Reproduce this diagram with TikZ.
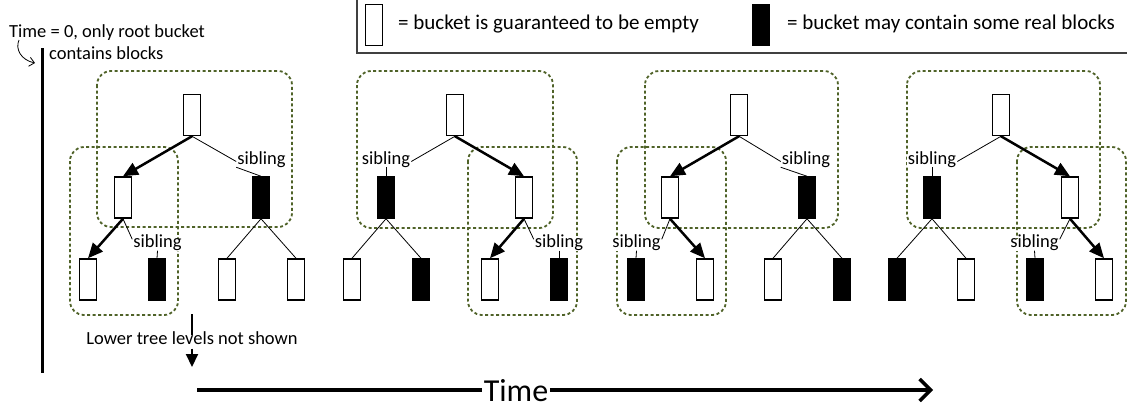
\documentclass[tikz,border=0pt]{standalone}
\usepackage{fontspec}
\setmainfont{Carlito}
\usetikzlibrary{arrows.meta}
\definecolor{groupgreen}{RGB}{79,98,40}
\definecolor{legendgray}{RGB}{64,64,64}

\begin{document}
\begin{tikzpicture}
[ x=1pt, y=-1pt, text height=1.5ex, text depth=0.4ex
, font=\fontsize{18.5}{22}\selectfont
, emptybucket/.style={rectangle, draw, line width=1.5pt, minimum width=17pt, minimum height=41pt, inner sep=0pt, fill=white}
, fullbucket/.style={emptybucket, fill=black}
, siblingtag/.style={rectangle, fill=white, inner sep=1pt}
, plaintext/.style={anchor=west, inner sep=0pt}
, keytext/.style={plaintext, font=\fontsize{21}{25}\selectfont}
, link/.style={line width=0.8pt}
, walk/.style={line width=2.5pt, -{Triangle[length=15pt, width=13pt]}}
, groupbox/.style={draw=groupgreen, line width=1.8pt, dash pattern=on 3pt off 2.5pt, rounded corners=14pt}
]
\useasboundingbox (0,0) rectangle (1127,408);
% Legend:
\draw [legendgray, line width=1.5pt] (357,-3) rectangle (1140,53);
\node (keyempty) [emptybucket] at (374,25) {};
\node (keyemptytext) [keytext] at (398,27) {= bucket is guaranteed to be empty};
\node (keyfull) [fullbucket] at (761,25) {};
\node (keyfulltext) [keytext] at (787,27) {= bucket may contain some real blocks};
% Start of time:
\node (start) [plaintext] at (9,34.5) {Time = 0, only root bucket};
\node (startb) [plaintext] at (49,56.5) {contains blocks};
\coordinate (hookstart) at (19,40);
\coordinate (hookend) at (35,63);
\draw [line width=0.8pt, -{Straight Barb[length=5pt, width=9pt]}] (hookstart) .. controls (15,49) and (21,60) .. (hookend);
\coordinate (axtop) at (42,48);
\coordinate (axbot) at (42,373);
\draw [line width=3pt] (axtop) -- (axbot);
% Groups:
\draw [groupbox] (97,71) rectangle (292,227);
\draw [groupbox] (70,147) rectangle (178,315);
\draw [groupbox] (357,71) rectangle (553,228);
\draw [groupbox] (468,147) rectangle (577,315);
\draw [groupbox] (645,71) rectangle (838,228);
\draw [groupbox] (617,147) rectangle (726,315);
\draw [groupbox] (907,71) rectangle (1100,228);
\draw [groupbox] (1017,147) rectangle (1126,315);
% First tree:
\node (t1r) [emptybucket] at (192,115) {};
\node (t1a) [emptybucket] at (123,197.5) {};
\node (t1b) [fullbucket] at (261,197.5) {};
\node (t1aa) [emptybucket] at (88,279.5) {};
\node (t1ab) [fullbucket] at (157,279.5) {};
\node (t1ba) [emptybucket] at (227,279.5) {};
\node (t1bb) [emptybucket] at (296,279.5) {};
\node (t1s1) [siblingtag] at (261.5,161.5) {sibling};
\node (t1s2) [siblingtag] at (157.5,245) {sibling};
% Second tree:
\node (t2r) [emptybucket] at (455,115) {};
\node (t2a) [fullbucket] at (386,197.5) {};
\node (t2b) [emptybucket] at (524,197.5) {};
\node (t2aa) [emptybucket] at (352,279.5) {};
\node (t2ab) [fullbucket] at (421,279.5) {};
\node (t2ba) [emptybucket] at (490,279.5) {};
\node (t2bb) [fullbucket] at (559,279.5) {};
\node (t2s1) [siblingtag] at (386,161.5) {sibling};
\node (t2s2) [siblingtag] at (559,245) {sibling};
% Third tree:
\node (t3r) [emptybucket] at (739,115) {};
\node (t3a) [emptybucket] at (670,197.5) {};
\node (t3b) [fullbucket] at (807,197.5) {};
\node (t3aa) [fullbucket] at (636,279.5) {};
\node (t3ab) [emptybucket] at (705,279.5) {};
\node (t3ba) [emptybucket] at (773,279.5) {};
\node (t3bb) [fullbucket] at (842,279.5) {};
\node (t3s1) [siblingtag] at (806,161.5) {sibling};
\node (t3s2) [siblingtag] at (636.5,245) {sibling};
% Fourth tree:
\node (t4r) [emptybucket] at (1001,115) {};
\node (t4a) [fullbucket] at (932,197.5) {};
\node (t4b) [emptybucket] at (1070,197.5) {};
\node (t4aa) [fullbucket] at (897,279.5) {};
\node (t4ab) [emptybucket] at (966,279.5) {};
\node (t4ba) [fullbucket] at (1035,279.5) {};
\node (t4bb) [emptybucket] at (1104,279.5) {};
\node (t4s1) [siblingtag] at (932,161.5) {sibling};
\node (t4s2) [siblingtag] at (1034.5,245) {sibling};
% Edges:
\draw [walk] (t1r.south) -- (t1a.north);
\draw [walk] (t1a.south) -- (t1aa.north);
\draw [link] (t1b.south) -- (t1ba.north);
\draw [link] (t1b.south) -- (t1bb.north);
\draw [link] (t1r.south) -- (t1s1.west);
\draw [link] (t1s1.south west) -- (t1b.north);
\draw [link] (t1a.south) -- (t1s2.north west);
\draw [link] (t1s2.south) -- (t1ab.north);
\draw [walk] (t2r.south) -- (t2b.north);
\draw [walk] (t2b.south) -- (t2ba.north);
\draw [link] (t2a.south) -- (t2aa.north);
\draw [link] (t2a.south) -- (t2ab.north);
\draw [link] (t2r.south) -- (t2s1.east);
\draw [link] (t2s1.south) -- (t2a.north);
\draw [link] (t2b.south) -- (t2s2.north west);
\draw [link] (t2s2.south) -- (t2bb.north);
\draw [walk] (t3r.south) -- (t3a.north);
\draw [walk] (t3a.south) -- (t3ab.north);
\draw [link] (t3b.south) -- (t3ba.north);
\draw [link] (t3b.south) -- (t3bb.north);
\draw [link] (t3r.south) -- (t3s1.west);
\draw [link] (t3s1.south west) -- (t3b.north);
\draw [link] (t3a.south) -- (t3s2.north east);
\draw [link] (t3s2.south) -- (t3aa.north);
\draw [walk] (t4r.south) -- (t4b.north);
\draw [walk] (t4b.south) -- (t4bb.north);
\draw [link] (t4a.south) -- (t4aa.north);
\draw [link] (t4a.south) -- (t4ab.north);
\draw [link] (t4r.south) -- (t4s1.east);
\draw [link] (t4s1.south) -- (t4a.north);
\draw [link] (t4b.south) -- (t4s2.north east);
\draw [link] (t4s2.south) -- (t4ba.north);
% Lower levels and time axis:
\node (lower) [inner sep=2pt] at (192,342) {Lower tree levels not shown};
\coordinate (lowertop) at (192,314);
\coordinate (lowerend) at (192,367);
\draw [line width=2pt] (lowertop) -- (lower);
\draw [line width=2pt, -{Triangle[length=13pt, width=12pt]}] (lower) -- (lowerend);
\node (time) [font=\fontsize{32}{38}\selectfont, text height=22pt, text depth=0pt, inner sep=1.5pt] at (516,390) {Time};
\coordinate (timestart) at (197,390);
\coordinate (timeend) at (933,390);
\draw [line width=3.5pt] (timestart) -- (time);
\draw [line width=3.5pt, -{Straight Barb[length=11pt, width=22pt]}] (time) -- (timeend);
\end{tikzpicture}
\end{document}
